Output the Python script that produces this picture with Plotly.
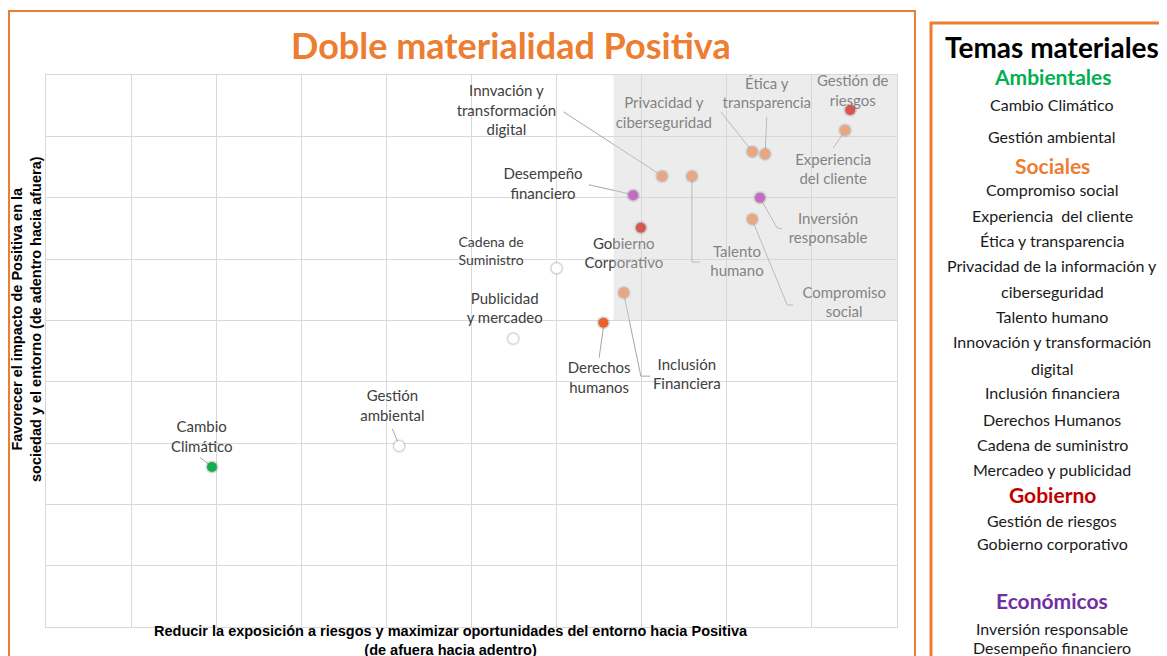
import plotly.graph_objects as go

# ---------------- data ----------------
topics = ["Cambio Climático", "Gestión ambiental", "Publicidad y mercadeo", "Cadena de Suministro",
          "Derechos humanos", "Inclusión Financiera", "Gobierno Corporativo", "Desempeño financiero",
          "Innovación y transformación digital", "Talento humano", "Privacidad y ciberseguridad",
          "Ética y transparencia", "Gestión de riesgos", "Experiencia del cliente",
          "Inversión responsable", "Compromiso social"]
x_vals = [1.95, 4.15, 5.49, 6.00, 6.55, 6.79, 6.99, 6.90, 7.24, 7.59, 8.30, 8.45, 9.45, 9.39, 8.39, 8.30]
y_vals = [2.61, 2.95, 4.70, 5.85, 4.96, 5.45, 6.51, 7.04, 7.35, 7.35, 7.75, 7.71, 8.43, 8.10, 7.00, 6.65]
colors = ["#17ad4f", "#ffffff", "#ffffff", "#ffffff", "#e8622b", "#eba57f", "#d65853", "#c46cc4",
          "#eba57f", "#eba57f", "#eba57f", "#eba57f", "#d9534f", "#eba57f", "#c46cc4", "#eba57f"]

# chart labels (text, x, y, size)
labels = [
    ("Innvación y<br>transformación<br>digital", 5.41, 8.40, 15),
    ("Privacidad y<br>ciberseguridad", 7.26, 8.36, 15),
    ("Ética y<br>transparencia", 8.47, 8.68, 15),
    ("Gestión de<br>riesgos", 9.48, 8.72, 15),
    ("Experiencia<br>del cliente", 9.25, 7.44, 15),
    ("Desempeño<br>financiero", 5.84, 7.20, 15),
    ("Inversión<br>responsable", 9.19, 6.48, 15),
    ("Talento<br>humano", 8.12, 5.94, 15),
    ("Compromiso<br>social", 9.38, 5.27, 15),
    ("Gobierno<br>Corporativo", 6.79, 6.07, 15),
    ("Cadena de<br>Suministro", 5.23, 6.11, 14),
    ("Publicidad<br>y mercadeo", 5.39, 5.17, 15),
    ("Derechos<br>humanos", 6.50, 4.04, 15),
    ("Inclusión<br>Financiera", 7.53, 4.10, 15),
    ("Gestión<br>ambiental", 4.07, 3.58, 15),
    ("Cambio<br>Climático", 1.83, 3.08, 15),
]

# leader lines
leaders = [
    ([6.08, 7.19], [8.40, 7.40]),
    ([7.93, 8.30], [8.40, 7.75]),
    ([8.47, 8.45], [8.32, 7.71]),
    ([9.25, 9.39], [7.81, 8.09]),
    ([6.38, 6.86], [7.21, 7.06]),
    ([8.39, 8.59, 8.65], [7.00, 6.51, 6.49]),
    ([7.59, 7.59, 7.69], [7.35, 5.95, 5.95]),
    ([8.31, 8.71, 8.78], [6.60, 5.25, 5.25]),
    ([6.55, 6.50], [4.89, 4.39]),
    ([6.80, 6.99, 7.10], [5.36, 4.09, 4.09]),
    ([4.07, 4.14], [3.23, 3.00]),
    ([1.81, 1.93], [2.76, 2.64]),
]

# shaded priority zone bounds
zone_x = [6.67, 10.0]
zone_y = [5.0, 9.0]

# legend panel content (text, pixel y, kind)
legend_items = [
    ("Temas materiales", 47, "title"),
    ("Ambientales", 76, "amb"),
    ("Cambio Climático", 104, "item"),
    ("Gestión ambiental", 136, "item"),
    ("Sociales", 166, "soc"),
    ("Compromiso social", 189, "item"),
    ("Experiencia  del cliente", 215, "item"),
    ("Ética y transparencia", 240, "item"),
    ("Privacidad de la información y", 265, "item"),
    ("ciberseguridad", 291, "item"),
    ("Talento humano", 316, "item"),
    ("Innovación y transformación", 341, "item"),
    ("digital", 368, "item"),
    ("Inclusión financiera", 392, "item"),
    ("Derechos Humanos", 419, "item"),
    ("Cadena de suministro", 444, "item"),
    ("Mercadeo y publicidad", 469, "item"),
    ("Gobierno", 494, "gob"),
    ("Gestión de riesgos", 520, "item"),
    ("Gobierno corporativo", 543, "item"),
    ("Económicos", 600, "eco"),
    ("Inversión responsable", 628, "item"),
    ("Desempeño financiero", 647, "item"),
]

# ---------------- layout geometry ----------------
OFF = 8  # page body margin
W, H = 1167, 656
L, R, T, B = 46, 897, 75, 627
def px2paper_x(px):
    return (px - L) / (R - L)
def px2paper_y(py):
    return (B - py) / (B - T)

ORANGE = "#ED7D31"
fig = go.Figure()

for lx, ly in leaders:
    fig.add_trace(go.Scatter(x=lx, y=ly, mode="lines", line=dict(color="#a6a6a6", width=1),
                             hoverinfo="skip", showlegend=False))

for txt, tx, ty, sz in labels:
    fig.add_trace(go.Scatter(x=[tx], y=[ty], mode="text", text=[txt], textposition="middle center",
                             textfont=dict(family="Lato", size=sz, color="#404040"),
                             hoverinfo="skip", showlegend=False))

fig.add_trace(go.Scatter(x=[zone_x[0], zone_x[1], zone_x[1], zone_x[0], zone_x[0]],
                         y=[zone_y[0], zone_y[0], zone_y[1], zone_y[1], zone_y[0]],
                         mode="lines", fill="toself", fillcolor="rgba(212,212,212,0.45)",
                         line=dict(width=0), hoverinfo="skip", showlegend=False))

fig.add_trace(go.Scatter(x=x_vals, y=y_vals, mode="markers",
                         marker=dict(size=14, color="rgba(0,0,0,0.08)", line=dict(width=0)),
                         hoverinfo="skip", showlegend=False))
fig.add_trace(go.Scatter(x=x_vals, y=y_vals, mode="markers",
                         marker=dict(size=12, color="rgba(0,0,0,0.10)", line=dict(width=0)),
                         hoverinfo="skip", showlegend=False))
fig.add_trace(go.Scatter(x=x_vals, y=y_vals, mode="markers", text=topics, hoverinfo="text",
                         marker=dict(size=10, color=colors, line=dict(width=0)),
                         showlegend=False))

annotations = []
annotations.append(dict(x=px2paper_x(511), y=px2paper_y(45), xref="paper", yref="paper",
                        text="<b>Doble materialidad Positiva</b>", showarrow=False,
                        font=dict(family="Lato", size=36, color=ORANGE), xanchor="center", yanchor="middle"))
annotations.append(dict(x=px2paper_x(26), y=px2paper_y(319), xref="paper", yref="paper",
                        text="<b>Favorecer el impacto de Positiva en la<br>sociedad y el entorno (de adentro hacia afuera)</b>",
                        showarrow=False, textangle=-90,
                        font=dict(family="Liberation Sans", size=14.5, color="#000000"),
                        xanchor="center", yanchor="middle"))
annotations.append(dict(x=px2paper_x(451), y=px2paper_y(641), xref="paper", yref="paper",
                        text="<b>Reducir la exposición a riesgos y maximizar oportunidades del entorno hacia Positiva<br>(de afuera hacia adentro)</b>",
                        showarrow=False,
                        font=dict(family="Liberation Sans", size=14.5, color="#000000"),
                        xanchor="center", yanchor="middle"))

styles = {
    "title": dict(size=28, color="#000000", bold=True),
    "amb": dict(size=21, color="#00B050", bold=True),
    "soc": dict(size=21, color=ORANGE, bold=True),
    "gob": dict(size=21, color="#C00000", bold=True),
    "eco": dict(size=21, color="#7030A0", bold=True),
    "item": dict(size=16, color="#1a1a1a", bold=False),
}
for txt, py, kind in legend_items:
    s = styles[kind]
    t = f"<b>{txt}</b>" if s["bold"] else txt
    annotations.append(dict(x=px2paper_x(1052), y=px2paper_y(py), xref="paper", yref="paper",
                            text=t, showarrow=False,
                            font=dict(family="Lato", size=s["size"], color=s["color"]),
                            xanchor="center", yanchor="middle"))

shapes = [
    dict(type="rect", xref="paper", yref="paper",
         x0=px2paper_x(9), x1=px2paper_x(915), y0=px2paper_y(720), y1=px2paper_y(11),
         line=dict(color=ORANGE, width=2), fillcolor="rgba(0,0,0,0)", layer="below"),
    dict(type="rect", xref="paper", yref="paper",
         x0=px2paper_x(931), x1=px2paper_x(1190), y0=px2paper_y(720), y1=px2paper_y(23),
         line=dict(color=ORANGE, width=3), fillcolor="rgba(0,0,0,0)", layer="below"),
]

axis_common = dict(showticklabels=False, ticks="", zeroline=False, gridcolor="#d9d9d9", gridwidth=1,
                   showline=True, linecolor="#d9d9d9", linewidth=1, mirror=True, fixedrange=True)
fig.update_layout(
    width=W, height=H,
    margin=dict(l=L - OFF, r=W - (R - OFF), t=T - OFF, b=H - (B - OFF)),
    paper_bgcolor="white", plot_bgcolor="white",
    xaxis=dict(range=[0, 10], dtick=1, tick0=0, **axis_common),
    yaxis=dict(range=[0, 9], dtick=1, tick0=0, **axis_common),
    annotations=annotations, shapes=shapes, showlegend=False,
)

fig.write_html("out.html")
